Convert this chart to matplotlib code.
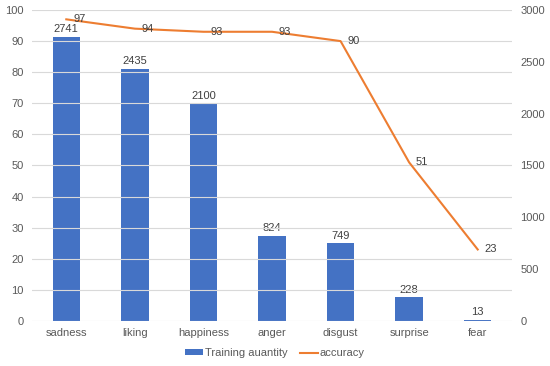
import matplotlib
matplotlib.use('Agg')
from matplotlib import pyplot as plt

categories = ['sadness', 'liking', 'happiness', 'anger', 'disgust', 'surprise', 'fear']
quantity = [2741, 2435, 2100, 824, 749, 228, 13]
accuracy = [97, 94, 93, 93, 90, 51, 23]

plt.rcParams['font.family'] = ['Liberation Sans', 'DejaVu Sans']
grey = '#595959'

fig = plt.figure(figsize=(5.5, 3.66), dpi=100)
ax = fig.add_axes([32 / 550, 1 - 321 / 366, 480 / 550, 311 / 366])
ax2 = ax.twinx()

x = list(range(len(categories)))

# bars use the right axis, line uses the left axis
bars = ax2.bar(x, quantity, width=0.4, color='#4472C4', label='Training auantity', zorder=2)
for xi, q in zip(x, quantity):
    ax2.annotate(str(q), (xi, q), xytext=(0, 2), textcoords='offset points',
                 ha='center', va='bottom', fontsize=8, color='#404040')

line, = ax.plot(x, accuracy, color='#ED7D31', lw=1.5, label='accuracy', zorder=3)
for xi, a in zip(x, accuracy):
    ax.annotate(str(a), (xi, a), xytext=(5, 0), textcoords='offset points',
                ha='left', va='center', fontsize=8, color='#404040')

ax.set_zorder(ax2.get_zorder() + 1)
ax.patch.set_visible(False)

ax.set_xlim(-0.5, 6.5)
ax.set_ylim(0, 100)
ax.set_yticks(range(0, 101, 10))
ax2.set_ylim(0, 3000)
ax2.set_yticks(range(0, 3001, 500))
ax.set_xticks(x)
ax.set_xticklabels(categories)

ax.grid(axis='y', color='#D9D9D9', lw=0.8)
ax.set_axisbelow(True)
for a in (ax, ax2):
    for s in a.spines.values():
        s.set_visible(False)
    a.tick_params(length=0, labelsize=8, colors=grey, pad=6)
ax.tick_params(axis='x', pad=5)

fig.legend([bars, line], ['Training auantity', 'accuracy'], loc='center',
           bbox_to_anchor=(0.5, 1 - 353 / 366), ncol=2, frameon=False,
           fontsize=8, labelcolor=grey, handlelength=1.6, handleheight=0.4,
           handletextpad=0.15, columnspacing=1.2)

fig.savefig('out.png', dpi=100)
